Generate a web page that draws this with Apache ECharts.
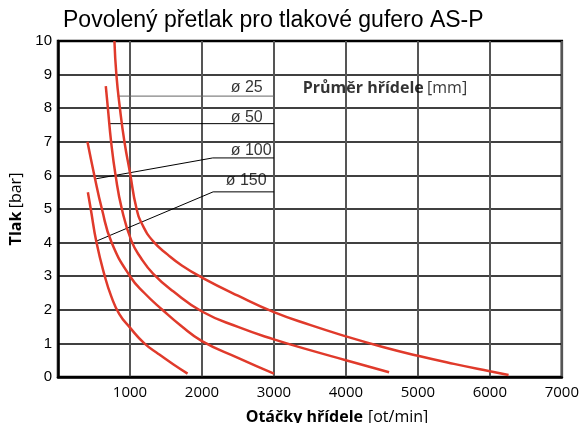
<!DOCTYPE html>
<html>
<head>
<meta charset="utf-8">
<script src="https://cdn.jsdelivr.net/npm/echarts@6/dist/echarts.min.js"></script>
<style>
  html, body { margin: 0; padding: 0; background: #fff; }
  #chart { width: 582px; height: 423px; }
</style>
</head>
<body>
<div id="chart"></div>
<script>
// krivky [ot/min, bar]
var d25 = [[784, 10], [811, 9], [860, 8], [923, 7], [1000, 6.08], [1090, 5.02], [1180, 4.5], [1330, 4.02], [1520, 3.65], [1720, 3.32], [2000, 2.96], [2500, 2.42], [3000, 1.93], [3500, 1.55], [4000, 1.21], [4500, 0.9], [5000, 0.63], [5500, 0.39], [6000, 0.17], [6260, 0.06]]
var d50 = [[664, 8.66], [693, 8], [738, 7], [800, 6], [887, 5], [1020, 4.05], [1150, 3.55], [1320, 3.08], [1600, 2.55], [2000, 1.95], [2500, 1.49], [3000, 1.12], [3500, 0.8], [4000, 0.5], [4300, 0.32], [4600, 0.14]]
var d100 = [[409, 7], [505, 6], [610, 5], [745, 4], [1000, 3], [1200, 2.5], [1450, 2], [1700, 1.54], [2000, 1.07], [2500, 0.57], [3000, 0.1]]
var d150 = [[415, 5.5], [455, 5], [535, 4], [650, 3], [740, 2.4], [850, 1.88], [1000, 1.47], [1200, 1.0], [1400, 0.68], [1600, 0.38], [1800, 0.1]]

// popisky
var diaNames = ['ø 25', 'ø 50', 'ø 100', 'ø 150']
var diaLabelPos = [[2400, 8.6], [2400, 7.72], [2400, 6.73], [2330, 5.84]]
var leader25 = [[828, 8.36], [3000, 8.36]]
var leader50 = [[707, 7.54], [3000, 7.54]]
var leader100 = [[530, 5.9], [2150, 6.52], [3000, 6.52]]
var leader150 = [[530, 4.04], [2155, 5.51], [3000, 5.51]]
var unitPos = [3400, 8.58]

var xTicks = [0, 7000, 1000]
var yTicks = [0, 10, 1]

var chart = echarts.init(document.getElementById('chart'))

var red = '#e03a2b'
function curve(data) {
  return {
    type: 'line',
    data: data,
    smooth: 0.5,
    showSymbol: false,
    lineStyle: { color: red, width: 2.5 },
    z: 5
  }
}
function leader(data, color) {
  return {
    type: 'line',
    data: data,
    showSymbol: false,
    lineStyle: { color: color || '#000', width: 1 },
    z: 3
  }
}

var bold = { fontFamily: 'Open Sans', fontWeight: 'bold', fontSize: 16, color: '#000' }
var norm = { fontFamily: 'Open Sans', fontWeight: 'normal', fontSize: 16, color: '#000' }

chart.setOption({
  animation: false,
  title: [
    {
      text: 'Povolený přetlak pro tlakové gufero AS-P',
      left: 58,
      top: 4,
      textStyle: { fontFamily: 'Liberation Sans', fontWeight: 'normal', fontSize: 23, color: '#000' }
    },
    {
      text: '{b|Otáčky hřídele} {n|[ot/min]}',
      left: 332,
      textAlign: 'center',
      top: 403,
      textStyle: { rich: { b: bold, n: norm } }
    }
  ],
  grid: {
    left: 58, top: 41, right: 8, bottom: 46,
    show: true, borderColor: '#000', borderWidth: 2.5, backgroundColor: '#fff'
  },
  xAxis: {
    type: 'value',
    min: xTicks[0], max: xTicks[1], interval: xTicks[2],
    axisLine: { show: true, lineStyle: { color: '#000', width: 2.5 } },
    axisTick: { show: false },
    axisLabel: {
      margin: 8,
      alignMaxLabel: 'center',
      fontFamily: 'Open Sans', fontSize: 15, color: '#000',
      formatter: function (v) { return v === 0 ? '' : String(v) }
    },
    splitLine: { show: true, lineStyle: { color: '#555', width: 2 } }
  },
  yAxis: {
    type: 'value',
    min: yTicks[0], max: yTicks[1], interval: yTicks[2],
    name: '{b|Tlak} {n|[bar]}',
    nameLocation: 'middle',
    nameRotate: 90,
    nameGap: 34,
    nameTextStyle: { rich: { b: bold, n: norm } },
    axisLine: { show: true, lineStyle: { color: '#000', width: 2.5 } },
    axisTick: { show: false },
    axisLabel: { margin: 6, fontFamily: 'Liberation Sans', fontSize: 15, color: '#000' },
    splitLine: { show: true, lineStyle: { color: '#000', width: 1.5 } }
  },
  series: [
    leader(leader25, '#666'),
    leader(leader50),
    leader(leader100),
    leader(leader150),
    curve(d25),
    curve(d50),
    curve(d100),
    curve(d150),
    {
      type: 'scatter',
      symbolSize: 0,
      z: 6,
      data: diaLabelPos.map(function (p, i) { return { value: p, name: diaNames[i] } }),
      label: {
        show: true,
        position: 'right',
        distance: 0,
        formatter: '{b}',
        fontFamily: 'Liberation Sans', fontSize: 16, color: '#000'
      }
    },
    {
      type: 'scatter',
      symbolSize: 0,
      z: 6,
      data: [{ value: unitPos }],
      label: {
        show: true,
        position: 'right',
        distance: 0,
        formatter: '{b|Průměr hřídele} {n|[mm]}',
        rich: { b: bold, n: norm }
      }
    }
  ]
})
</script>
</body>
</html>
